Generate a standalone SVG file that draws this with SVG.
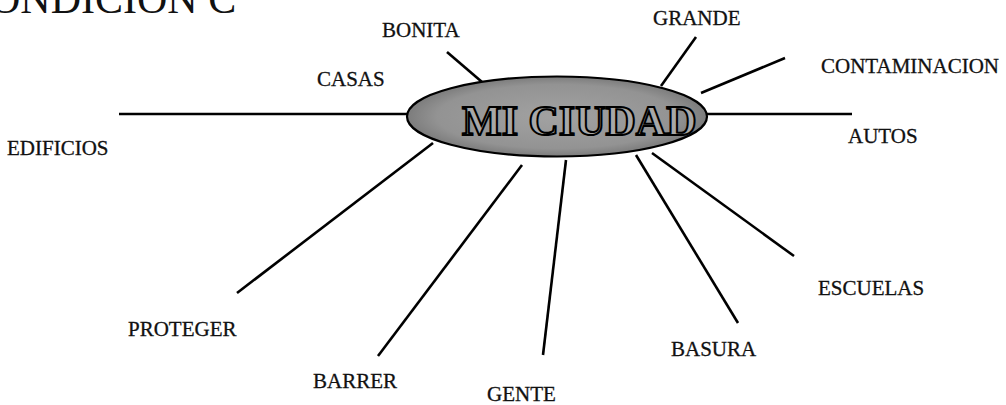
<svg xmlns="http://www.w3.org/2000/svg" width="1006" height="405" viewBox="0 0 1006 405">
<style>
.lbl{font-family:"Liberation Serif","Times New Roman",serif;font-size:21px;fill:#111;stroke:#111;stroke-width:0.3}
.title{font-family:"Liberation Serif","Times New Roman",serif;font-size:42px;fill:#111}
.conn line{stroke:#000;stroke-width:2.6;stroke-linecap:butt}
.hub{fill:url(#hubfill);stroke:#000;stroke-width:2.2}
.hubtxt{font-family:"Liberation Serif","Times New Roman",serif;font-size:42px;font-weight:bold;fill:#a8a8a8;stroke:#000;stroke-width:2}
</style>
<defs>
<radialGradient id="hubfill" cx="0.5" cy="0.5" r="0.5">
<stop offset="0" stop-color="#a2a2a2"/>
<stop offset="0.8" stop-color="#939393"/>
<stop offset="1" stop-color="#7c7c7c"/>
</radialGradient>
</defs>
<rect width="1006" height="405" fill="#fff"/>
<text class="title" x="-10" y="13">ONDICION C</text>
<g id="connectors" class="conn">
<line x1="119" y1="114" x2="408" y2="114"/>
<line x1="447" y1="52" x2="482" y2="82"/>
<line x1="696" y1="37" x2="661" y2="86"/>
<line x1="785" y1="58" x2="701" y2="93"/>
<line x1="707" y1="114" x2="852" y2="114"/>
<line x1="652" y1="153" x2="794" y2="256"/>
<line x1="636" y1="155" x2="738" y2="323"/>
<line x1="566" y1="160" x2="543" y2="355"/>
<line x1="522" y1="165" x2="378" y2="356"/>
<line x1="433" y1="143" x2="237" y2="293"/>
</g>
<g id="mi-ciudad">
<ellipse class="hub" cx="557" cy="116.5" rx="150" ry="40"/>
<text class="hubtxt" x="462" y="135">MI CIUDAD</text>
</g>
<g id="edificios"><text class="lbl" x="7" y="155">EDIFICIOS</text></g>
<g id="casas"><text class="lbl" x="317" y="86">CASAS</text></g>
<g id="bonita"><text class="lbl" x="382" y="37">BONITA</text></g>
<g id="grande"><text class="lbl" x="653" y="25">GRANDE</text></g>
<g id="contaminacion"><text class="lbl" x="821" y="73">CONTAMINACION</text></g>
<g id="autos"><text class="lbl" x="848" y="143">AUTOS</text></g>
<g id="escuelas"><text class="lbl" x="818" y="295">ESCUELAS</text></g>
<g id="basura"><text class="lbl" x="671" y="356">BASURA</text></g>
<g id="gente"><text class="lbl" x="487" y="401">GENTE</text></g>
<g id="barrer"><text class="lbl" x="313" y="388">BARRER</text></g>
<g id="proteger"><text class="lbl" x="128" y="336">PROTEGER</text></g>
</svg>
